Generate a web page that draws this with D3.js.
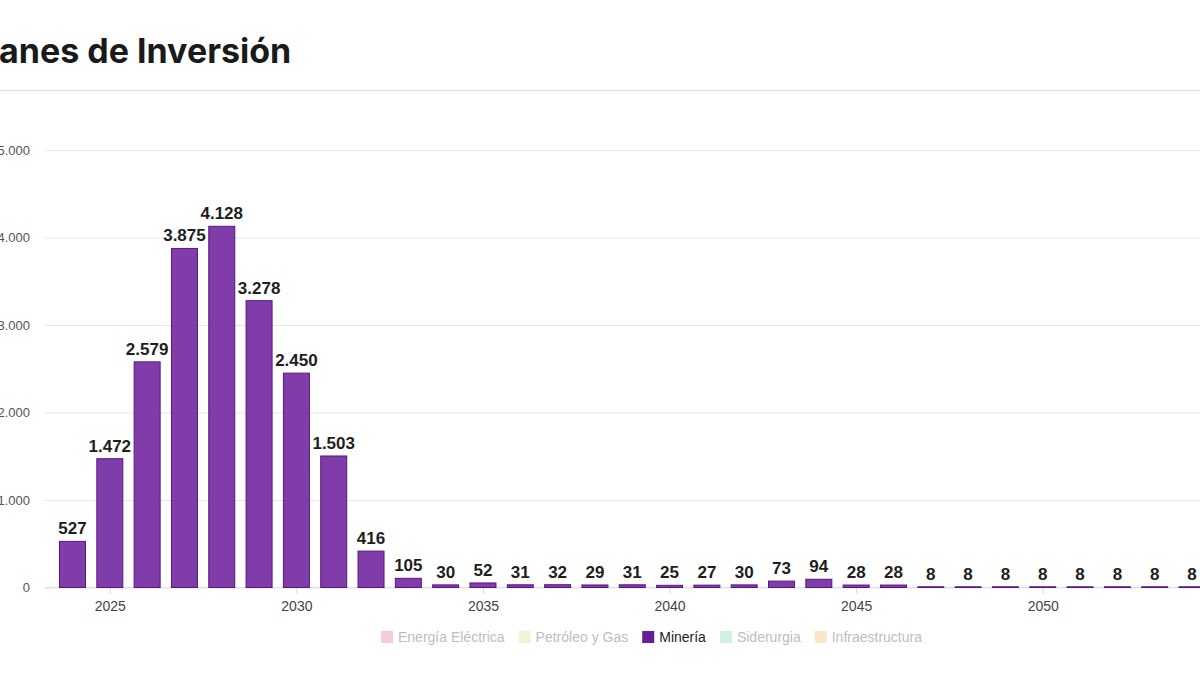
<!DOCTYPE html>
<html>
<head>
<meta charset="utf-8">
<script src="https://cdn.jsdelivr.net/npm/d3@7"></script>
<style>
  html, body { margin: 0; padding: 0; background: #fff; overflow: hidden; }
  svg { display: block; }
</style>
</head>
<body>
<div id="chart"></div>
<script>
    var width = 1200,
        height = 675;

    // data
    var years = [2024, 2025, 2026, 2027, 2028, 2029, 2030, 2031, 2032, 2033,
                 2034, 2035, 2036, 2037, 2038, 2039, 2040, 2041, 2042, 2043,
                 2044, 2045, 2046, 2047, 2048, 2049, 2050, 2051, 2052, 2053, 2054];
    var mineria = [527, 1472, 2579, 3875, 4128, 3278, 2450, 1503, 416, 105,
                   30, 52, 31, 32, 29, 31, 25, 27, 30, 73,
                   94, 28, 28, 8, 8, 8, 8, 8, 8, 8, 8];
    var yTicks = [0, 1000, 2000, 3000, 4000, 5000];
    var xTicks = [2025, 2030, 2035, 2040, 2045, 2050];
    var legendNames = ['Energía Eléctrica', 'Petróleo y Gas', 'Minería', 'Siderurgia', 'Infraestructura'];
    var legendColors = ['#f3c6d3', '#eef3cf', '#6a1b9a', '#cdeedb', '#fde3c0'];
    var activeSeries = 'Minería';

    var es = d3.formatLocale({decimal: ',', thousands: '.', grouping: [3], currency: ['', '']});
    var fmt = es.format(',d');

    var svg = d3.select('#chart')
        .append('svg')
        .attr('width', width)
        .attr('height', height);

    // title, cut at the left edge like the picture
    var titleFont = 'Inter, "Open Sans", sans-serif';
    var title = svg.append('text')
        .attr('y', 63)
        .attr('font-family', titleFont)
        .attr('font-weight', 700)
        .attr('font-size', 34)
        .attr('fill', '#1a1a1a')
        .text('Planes de Inversión');
    var probe = svg.append('text')
        .attr('font-family', titleFont)
        .attr('font-weight', 700)
        .attr('font-size', 34)
        .text('Pl');
    title.attr('x', -probe.node().getComputedTextLength() - 1);
    probe.remove();

    svg.append('line')
        .attr('x1', 0).attr('x2', width)
        .attr('y1', 90.5).attr('y2', 90.5)
        .attr('stroke', '#e2e2e2')
        .attr('stroke-width', 1.5);

    var x = d3.scaleLinear().domain([2024, 2054]).range([72.5, 1192]);
    var y = d3.scaleLinear().domain([0, 5000]).range([587.5, 150]);
    var barW = 26;

    // y grid + labels
    var yAxis = svg.append('g')
        .attr('transform', 'translate(45,0)')
        .call(d3.axisLeft(y).tickValues(yTicks).tickSize(-(width - 45)).tickPadding(15).tickFormat(fmt));
    yAxis.select('.domain').remove();
    yAxis.selectAll('.tick line').attr('stroke', '#e6e6e6');
    yAxis.selectAll('.tick text')
        .attr('font-family', 'Arial, "Liberation Sans", sans-serif')
        .attr('font-size', 13)
        .attr('fill', '#555');

    // x axis
    var xAxis = svg.append('g')
        .attr('transform', 'translate(0,' + y(0) + ')')
        .call(d3.axisBottom(x).tickValues(xTicks).tickSize(6).tickPadding(8).tickFormat(d3.format('d')));
    xAxis.select('.domain').attr('stroke', '#e0e0e0').attr('d', 'M45,0H' + width);
    xAxis.selectAll('.tick line').attr('stroke', '#d8d8d8');
    xAxis.selectAll('.tick text')
        .attr('font-family', 'Arial, "Liberation Sans", sans-serif')
        .attr('font-size', 14)
        .attr('fill', '#444');

    // bars
    svg.append('g')
        .selectAll('rect')
        .data(mineria)
        .enter().append('rect')
        .attr('x', function(d, i){ return x(years[i]) - barW / 2; })
        .attr('y', function(d){ return y(d); })
        .attr('width', barW)
        .attr('height', function(d){ return Math.max(0, y(0) - y(d)); })
        .attr('fill', '#6a1b9a')
        .attr('fill-opacity', 0.85)
        .attr('stroke', '#5a1585')
        .attr('stroke-width', 1);

    // value labels
    svg.append('g')
        .selectAll('text')
        .data(mineria)
        .enter().append('text')
        .attr('x', function(d, i){ return x(years[i]); })
        .attr('y', function(d){ return y(d) - 7; })
        .attr('text-anchor', 'middle')
        .attr('font-family', 'Arial, "Liberation Sans", sans-serif')
        .attr('font-weight', 700)
        .attr('font-size', 17)
        .attr('fill', '#1e1e1e')
        .text(function(d){ return fmt(d); });

    // legend
    var legend = svg.append('g').attr('transform', 'translate(381,637)');
    var lx = 0;
    legendNames.forEach(function(name, i){
        var on = name === activeSeries;
        var item = legend.append('g').attr('transform', 'translate(' + lx + ',0)');
        item.append('rect')
            .attr('x', 0).attr('y', -6)
            .attr('width', 12).attr('height', 12)
            .attr('fill', legendColors[i])
            .attr('fill-opacity', on ? 1 : 0.9);
        var t = item.append('text')
            .attr('x', 17).attr('y', 5)
            .attr('font-family', 'Arial, "Liberation Sans", sans-serif')
            .attr('font-size', 14)
            .attr('fill', on ? '#222' : '#bdbdbd')
            .text(name);
        lx += 17 + t.node().getComputedTextLength() + 14;
    });
</script>
</body>
</html>
